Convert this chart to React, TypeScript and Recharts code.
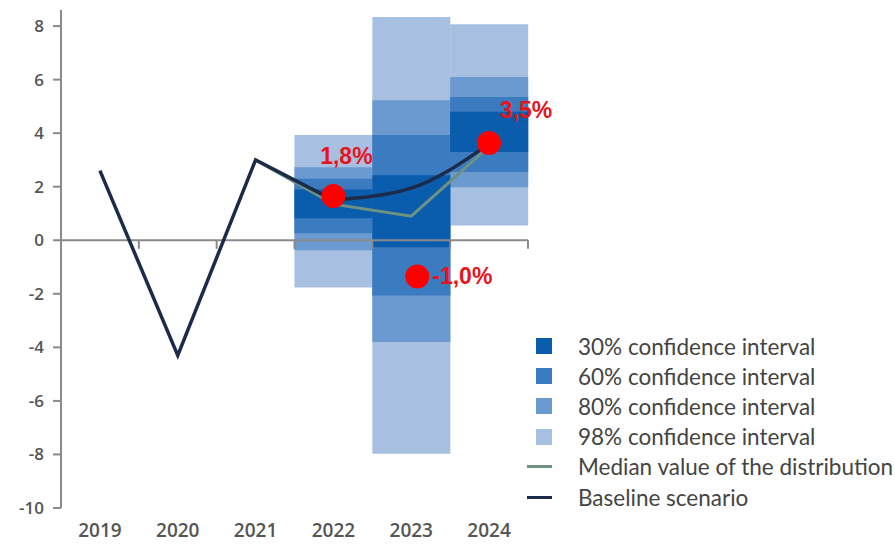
import React from "react";
import {
  ComposedChart,
  Bar,
  Line,
  XAxis,
  YAxis,
  ReferenceLine,
  ReferenceDot,
} from "recharts";

// ─── Data ─────────────────────────────────────────────────────────────────────

const years = ["2019", "2020", "2021", "2022", "2023", "2024"];

// baseline scenario: history is a straight polyline, forecast is smoothed
const baselineHist = [2.6, -4.3, 3.0, 1.5, null, null];
const baselineFcst = [null, null, null, 1.5, 1.95, 3.6];
const median = [null, null, 3.0, 1.35, 0.9, 3.5];

// confidence intervals as [low, high]
const ci30 = [null, null, null, [0.82, 1.9], [-0.26, 2.43], [3.3, 4.8]];
const ci60 = [null, null, null, [0.26, 2.3], [-2.06, 3.93], [2.55, 5.35]];
const ci80 = [null, null, null, [-0.37, 2.73], [-3.8, 5.23], [1.98, 6.1]];
const ci98 = [null, null, null, [-1.76, 3.93], [-7.97, 8.34], [0.55, 8.07]];

// red annotation markers
const markerYears = ["2022", "2023", "2024"];
const markerValues = [1.65, -1.35, 3.63];
const markerLabels = ["1,8%", "-1,0%", "3,5%"];

const yTicks = [-10, -8, -6, -4, -2, 0, 2, 4, 6, 8];
const bandEdges = [1, 2, 3, 4, 5, 6];

// ─── Styles ───────────────────────────────────────────────────────────────────

const C30 = "#0a5dad";
const C60 = "#3b7bbf";
const C80 = "#6b9ad0";
const C98 = "#a7c0e2";
const NAVY = "#1c2b4a";
const MEDIAN = "#6e9282";
const AXIS = "#8a8a8a";
const RED = "#ff0000";
const FONT = "Lato, 'Open Sans', sans-serif";

// label placement relative to each dot (pixels)
const labelOffsets = [
  { dotDx: 0, dx: 13, dy: -40, anchor: "middle" },
  { dotDx: 6, dx: 15, dy: 0, anchor: "start" },
  { dotDx: 0, dx: 37, dy: -33, anchor: "middle" },
];

const data = years.map((year, i) => ({
  year,
  idx: i + 0.5,
  baselineHist: baselineHist[i],
  baselineFcst: baselineFcst[i],
  median: median[i],
  ci30: ci30[i],
  ci60: ci60[i],
  ci80: ci80[i],
  ci98: ci98[i],
}));

const legendItems = [
  { label: "30% confidence interval", color: C30, kind: "box" },
  { label: "60% confidence interval", color: C60, kind: "box" },
  { label: "80% confidence interval", color: C80, kind: "box" },
  { label: "98% confidence interval", color: C98, kind: "box" },
  { label: "Median value of the distribution", color: MEDIAN, kind: "line" },
  { label: "Baseline scenario", color: NAVY, kind: "line" },
];

// ─── Marker ───────────────────────────────────────────────────────────────────

function Marker(props: any) {
  const { cx, cy, index } = props;
  const o = labelOffsets[index];
  const x = cx + o.dotDx;
  return (
    <g>
      <circle cx={x} cy={cy} r={12} fill={RED} />
      <text
        x={x + o.dx}
        y={cy + o.dy}
        textAnchor={o.anchor}
        dominantBaseline="central"
        fontFamily="'Liberation Sans', Arial, sans-serif"
        fontWeight={700}
        fontSize={23}
        fill="#e8141b"
      >
        {markerLabels[index]}
      </text>
    </g>
  );
}

// ─── Component ────────────────────────────────────────────────────────────────

export default function App() {
  const bandAxes = ["b98", "b80", "b60", "b30"];
  return (
    <div style={{ position: "absolute", left: 0, top: 0, width: 895, height: 544, background: "#fff", overflow: "hidden" }}>
      <ComposedChart
        width={895}
        height={544}
        data={data}
        margin={{ top: 10, right: 367, bottom: 6, left: 0 }}
        barCategoryGap={0}
        barGap={0}
      >
        <XAxis
          dataKey="year"
          axisLine={false}
          tickLine={false}
          tickSize={0}
          tickMargin={16}
          height={30}
          tick={{ fontSize: 19, fill: "#555", fontFamily: "'Open Sans', sans-serif", fontWeight: 600 }}
          interval={0}
        />
        {bandAxes.map((id) => (
          <XAxis key={id} xAxisId={id} dataKey="year" hide />
        ))}
        <XAxis xAxisId="num" type="number" dataKey="idx" domain={[0, 6]} hide />
        <YAxis
          domain={[-10, 8.6]}
          ticks={yTicks}
          width={61}
          axisLine={{ stroke: AXIS, strokeWidth: 2 }}
          tickLine={{ stroke: AXIS, strokeWidth: 2 }}
          tickSize={8}
          tickMargin={9}
          tick={{ fontSize: 17, fill: "#555", fontFamily: "'Open Sans', sans-serif", fontWeight: 600 }}
          allowDataOverflow
        />

        <Bar xAxisId="b98" dataKey="ci98" fill={C98} isAnimationActive={false} />
        <Bar xAxisId="b80" dataKey="ci80" fill={C80} isAnimationActive={false} />
        <Bar xAxisId="b60" dataKey="ci60" fill={C60} isAnimationActive={false} />
        <Bar xAxisId="b30" dataKey="ci30" fill={C30} isAnimationActive={false} />

        <ReferenceLine y={0} stroke={AXIS} strokeWidth={2} />
        {bandEdges.map((e) => (
          <ReferenceLine
            key={e}
            xAxisId="num"
            segment={[{ x: e, y: 0 }, { x: e, y: -0.32 }]}
            stroke={AXIS}
            strokeWidth={2}
          />
        ))}

        <Line
          dataKey="median"
          stroke={MEDIAN}
          strokeWidth={3}
          dot={false}
          type="linear"
          isAnimationActive={false}
        />
        <Line
          dataKey="baselineHist"
          stroke={NAVY}
          strokeWidth={3.5}
          dot={false}
          type="linear"
          isAnimationActive={false}
        />
        <Line
          dataKey="baselineFcst"
          stroke={NAVY}
          strokeWidth={3.5}
          dot={false}
          type="monotone"
          isAnimationActive={false}
        />

        {markerYears.map((yr, i) => (
          <ReferenceDot
            key={yr}
            x={yr}
            y={markerValues[i]}
            r={12}
            shape={(p: any) => <Marker {...p} index={i} />}
          />
        ))}
      </ComposedChart>

      <div style={{ position: "absolute", left: 526, top: 331, fontFamily: FONT, fontSize: 22.5, color: "#444" }}>
        {legendItems.map((it) => (
          <div key={it.label} style={{ display: "flex", alignItems: "center", height: 30.2, whiteSpace: "nowrap" }}>
            <div style={{ width: 26, display: "flex", justifyContent: "flex-end", alignItems: "center" }}>
              {it.kind === "box" ? (
                <div style={{ width: 16, height: 16, background: it.color }} />
              ) : (
                <div style={{ width: 25, height: 3, background: it.color }} />
              )}
            </div>
            <span style={{ marginLeft: 26 }}>{it.label}</span>
          </div>
        ))}
      </div>
    </div>
  );
}
